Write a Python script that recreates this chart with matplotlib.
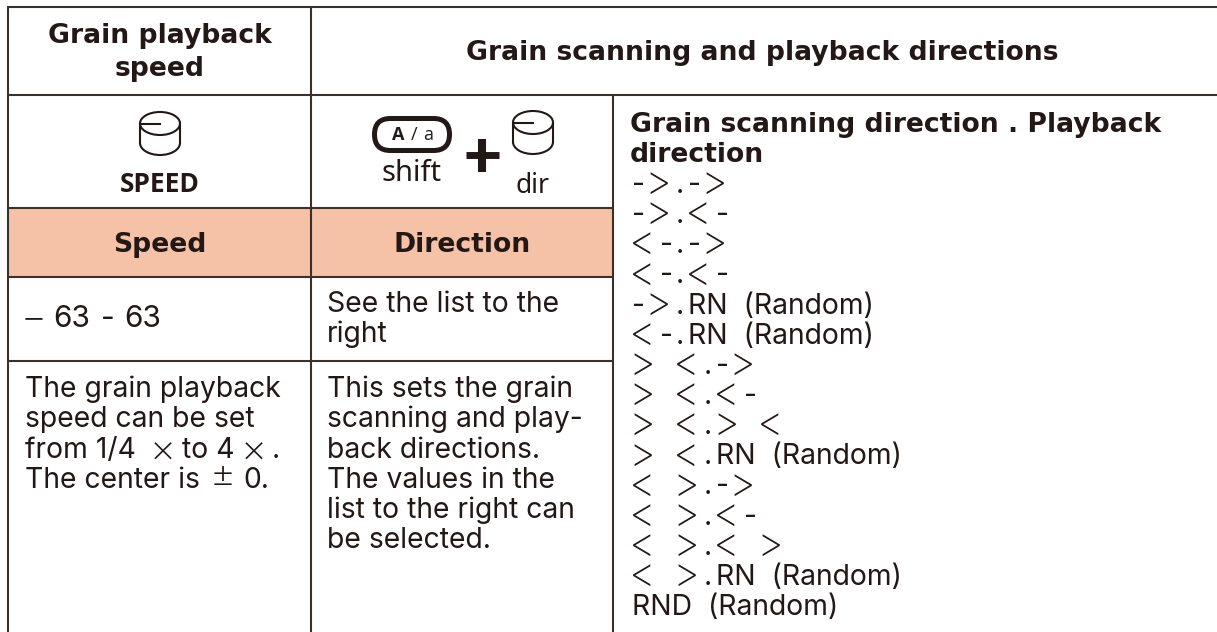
import matplotlib
matplotlib.use('Agg')
import matplotlib.pyplot as plt
from matplotlib.patches import FancyBboxPatch, Arc, Rectangle

W, H = 1217, 632
LINE = '#3a302c'
TXT = '#231815'
SALMON = '#f5c1a7'

header_left = ['Grain playback', 'speed']
header_right = 'Grain scanning and playback directions'
col_speed = 'Speed'
col_direction = 'Direction'
range_speed = ['\u2212', '63', '-', '63']
range_direction = ['See the list to the', 'right']
desc_speed = ['The grain playback', 'speed can be set']
desc_speed_from = ['from 1/4', '\u00d7', 'to 4', '\u00d7', '.']
desc_speed_center = ['The center is', '\u00b1', '0.']
desc_direction = ['This sets the grain', 'scanning and play-', 'back directions.', 'The values in the',
                  'list to the right can', 'be selected.']
list_title = ['Grain scanning direction . Playback', 'direction']
list_items = ['->.->', '->.<-', '<-.->', '<-.<-', '->.RN  (Random)', '<-.RN  (Random)',
              '>  <.->', '>  <.<-', '>  <.>  <', '>  <.RN  (Random)',
              '<  >.->', '<  >.<-', '<  >.<  >', '<  >.RN  (Random)', 'RND  (Random)']

fig = plt.figure(figsize=(W / 100, H / 100), dpi=100)
ax = fig.add_axes([0, 0, 1, 1])
ax.set_xlim(0, W)
ax.set_ylim(H, 0)
ax.axis('off')

x0, x1, x2, x3 = 8, 311, 613, W
y0, y1, y2, y3, y4, y5 = 7, 95, 208, 277, 361, H

ax.add_patch(Rectangle((x0, y2), x2 - x0, y3 - y2, color=SALMON, lw=0))


def hline(y, a, b):
    ax.plot([a, b], [y, y], color=LINE, lw=1.5, solid_capstyle='butt')


def vline(x, a, b):
    ax.plot([x, x], [a, b], color=LINE, lw=1.5, solid_capstyle='butt')


hline(y0, x0 - 1, x3)
hline(y1, x0, x3)
hline(y2, x0, x2)
hline(y3, x0, x2)
hline(y4, x0, x2)
vline(x0, y0, y5)
vline(x1, y0, y5)
vline(x2, y1, y5)


def bold(x, y, s, ha='center', size=19.2):
    ax.text(x, y, s, ha=ha, va='baseline', fontsize=size, color=TXT, family='DejaVu Sans', fontweight='bold')


def light(x, y, s, size=20.4, ha='left'):
    ax.text(x, y, s, ha=ha, va='baseline', fontsize=size, color=TXT, family='Inter')


def sign(x, y, s, size=29):
    ax.text(x, y, s, ha='center', va='baseline', fontsize=size, color=TXT, family='Inter', fontweight='light')


def list_row(x, y, s):
    # the arrows are much wider in the original, so set them one by one
    steps = {'-': 16, '<': 28, '>': 28, '.': 12, ' ': 8}
    i = 0
    while i < len(s):
        c = s[i]
        if c in '<>':
            sign(x + 10, y + 2, c, size=30)
        elif c in '-.':
            light(x, y, c)
        elif c != ' ':
            light(x, y, s[i:])
            break
        x += steps[c]
        i += 1


bold(160, 43, header_left[0])
bold(160, 76, header_left[1])
bold(762, 60, header_right)
bold(160, 252, col_speed)
bold(462, 252, col_direction)

sign(34, 329, range_speed[0])
light(53, 327, range_speed[1], size=21.5)
light(101, 327, range_speed[2], size=21.5)
light(124, 327, range_speed[3], size=21.5)

for i, s in enumerate(range_direction):
    light(327, 312 + i * 30, s)

row = 30.3
for i, s in enumerate(desc_speed):
    light(25, 397 + i * row, s)
light(25, 397 + 2 * row, desc_speed_from[0])
sign(163, 397 + 2 * row + 5, desc_speed_from[1])
light(182, 397 + 2 * row, desc_speed_from[2])
sign(254, 397 + 2 * row + 5, desc_speed_from[3])
light(272, 397 + 2 * row, desc_speed_from[4])
light(25, 397 + 3 * row, desc_speed_center[0])
sign(223, 397 + 3 * row, desc_speed_center[1])
light(243, 397 + 3 * row, desc_speed_center[2])

for i, s in enumerate(desc_direction):
    light(327, 397 + i * row, s)

for i, s in enumerate(list_title):
    bold(630, 132 + i * 30, s, ha='left')
for i, s in enumerate(list_items):
    list_row(632, 193 + i * 30.15, s)


def knob(cx, top):
    w, h = 40, 23
    ax.add_patch(Arc((cx, top + h / 2), w, h, theta1=0, theta2=360, color=TXT, lw=1.5))
    ax.plot([cx - w / 2, cx - w / 2], [top + h / 2, top + 31], color=TXT, lw=1.5)
    ax.plot([cx + w / 2, cx + w / 2], [top + h / 2, top + 31], color=TXT, lw=1.5)
    ax.add_patch(Arc((cx, top + 31), w, 24, theta1=0, theta2=180, color=TXT, lw=1.5))
    ax.plot([cx - w / 2 + 2, cx], [top + h / 2, top + h / 2], color=TXT, lw=1.5)


knob(160, 112)
ax.text(160, 192, 'SPEED', ha='center', va='baseline', fontsize=19, color=TXT, family='Open Sans', fontweight='bold')

knob(533, 111)
ax.add_patch(FancyBboxPatch((374.5, 118.5), 75, 32, boxstyle='round,pad=0,rounding_size=16',
                            fc='white', ec=TXT, lw=3.6))
ax.text(398, 140, 'A', ha='center', va='baseline', fontsize=13, color=TXT, family='Open Sans', fontweight='bold')
ax.text(414, 140, '/', ha='center', va='baseline', fontsize=13, color=TXT, family='Open Sans')
ax.text(428, 140, 'a', ha='center', va='baseline', fontsize=13, color=TXT, family='Open Sans')
ax.text(412, 181, 'shift', ha='center', va='baseline', fontsize=21, color=TXT, family='Noto Sans')
ax.text(532.5, 193, 'dir', ha='center', va='baseline', fontsize=19, color=TXT, family='Noto Sans')
ax.plot([466, 499], [155, 155], color=TXT, lw=5, solid_capstyle='butt')
ax.plot([482, 482], [139, 172], color=TXT, lw=5.8, solid_capstyle='butt')

fig.savefig('out.png', dpi=100, facecolor='white')
